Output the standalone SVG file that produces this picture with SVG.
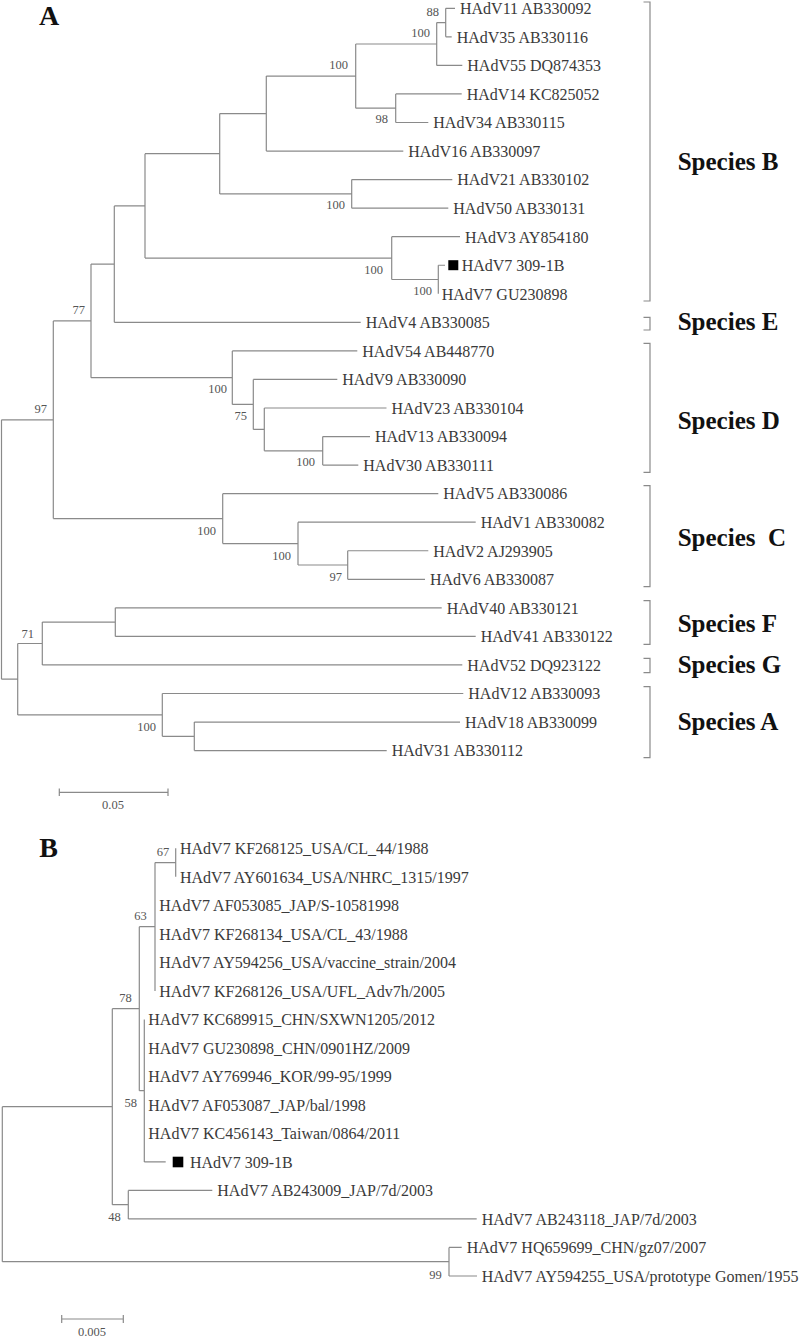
<svg xmlns="http://www.w3.org/2000/svg" width="800" height="1336" viewBox="0 0 800 1336">
<style>
.e{fill:none;stroke:#8a8a8a;stroke-width:1.2}
.t{font-family:"Liberation Serif","Times New Roman",serif;font-size:16px;fill:#3a3a3a}
.b{font-family:"Liberation Serif","Times New Roman",serif;font-size:12.5px;fill:#555;text-anchor:end}
.s{font-family:"Liberation Serif","Times New Roman",serif;font-size:25px;font-weight:bold;fill:#111}
.p{font-family:"Liberation Serif","Times New Roman",serif;font-weight:bold;fill:#111}
.k{fill:none;stroke:#8a8a8a;stroke-width:1.2}
.sc{font-family:"Liberation Serif","Times New Roman",serif;font-size:12.5px;fill:#555;text-anchor:middle}
</style>
<rect width="800" height="1336" fill="#fff"/>
<text class="p" x="39" y="25" font-size="28">A</text>
<text class="p" x="39.3" y="856.7" font-size="28">B</text>

<g id="connectors">
<path class="e" d="M1.5 419.8V679.2M1.5 419.8H53.3M1.5 679.2H17.7
M53.3 320.9V518.6M53.3 320.9H91M53.3 518.6H222.7
M91 264.1V377.7M91 264.1H114.3M91 377.7H232.3
M114.3 205.9V322.35M114.3 205.9H145M114.3 322.35H360.7
M145 153.7V258.1M145 153.7H219.7M145 258.1H391.7
M219.7 113.6V193.9M219.7 113.6H266.3M219.7 193.9H351.7
M266.3 76.1V151.05M266.3 76.1H355.7M266.3 151.05H403.3
M355.7 44V108.2M355.7 44H436.7M355.7 108.2H395.7
M436.7 22.6V65.4M436.7 22.6H445.7M436.7 65.4H462.3
M445.7 8.3V36.85M445.7 8.3H455M445.7 36.85H451.7
M395.7 93.95V122.5M395.7 93.95H461.7M395.7 122.5H428.3
M351.7 179.6V208.15M351.7 179.6H452.3M351.7 208.15H448.3
M391.7 236.7V279.5M391.7 236.7H460M391.7 279.5H438.3
M438.3 265.25V293.8M438.3 265.25H445
M232.3 350.9V404.4M232.3 350.9H357.3M232.3 404.4H253.3
M253.3 379.45V429.4M253.3 379.45H337.3M253.3 429.4H264.3
M264.3 408V450.8M264.3 408H386.5M264.3 450.8H322.7
M322.7 436.55V465.1M322.7 436.55H370M322.7 465.1H358.3
M222.7 493.65V543.6M222.7 493.65H438.3M222.7 543.6H298
M298 522.2V565M298 522.2H475.7M298 565H347.7
M347.7 550.75V579.3M347.7 550.75H428.3M347.7 579.3H425
M17.7 643.5V714.9M17.7 643.5H42.3M17.7 714.9H162.3
M42.3 622.1V664.95M42.3 622.1H115.3M42.3 664.95H462.3
M115.3 607.85V636.4M115.3 607.85H441.7M115.3 636.4H475.7
M162.3 693.5V736.3M162.3 693.5H463.3M162.3 736.3H194.3
M194.3 722.05V750.6M194.3 722.05H460M194.3 750.6H386.7"/>
<path class="e" d="M2.3 1106.7V1261.7M2.3 1106.7H112.3M2.3 1261.7H449
M112.3 1008.7V1204.65M112.3 1008.7H139.3M112.3 1204.65H128.3
M139.3 926.7V1090.65M139.3 926.7H155M139.3 1090.65H144.3
M155 862.55V990.9M155 862.55H175.7
M175.7 848.3V876.8
M144.3 1019.4V1161.9M144.3 1161.9H165.7
M128.3 1190.4V1218.9M128.3 1190.4H212.3M128.3 1218.9H476.7
M449 1247.4V1276M449 1247.4H461.7M449 1276H477"/>
</g>

<g id="tipsA">
<g id="a0"><text class="t" x="460" y="14.1">HAdV11 AB330092</text></g>
<g id="a1"><text class="t" x="456.7" y="42.65">HAdV35 AB330116</text></g>
<g id="a2"><text class="t" x="467.3" y="71.2">HAdV55 DQ874353</text></g>
<g id="a3"><text class="t" x="466.7" y="99.75">HAdV14 KC825052</text></g>
<g id="a4"><text class="t" x="433.3" y="128.3">HAdV34 AB330115</text></g>
<g id="a5"><text class="t" x="408.3" y="156.85">HAdV16 AB330097</text></g>
<g id="a6"><text class="t" x="457.3" y="185.4">HAdV21 AB330102</text></g>
<g id="a7"><text class="t" x="453.3" y="213.95">HAdV50 AB330131</text></g>
<g id="a8"><text class="t" x="465" y="242.5">HAdV3 AY854180</text></g>
<g id="a9"><rect x="448.3" y="260.2" width="10" height="10" fill="#000"/><text class="t" x="461.7" y="271.05">HAdV7 309-1B</text></g>
<g id="a10"><text class="t" x="441.7" y="299.6">HAdV7 GU230898</text></g>
<g id="a11"><text class="t" x="365.7" y="328.15">HAdV4 AB330085</text></g>
<g id="a12"><text class="t" x="362.3" y="356.7">HAdV54 AB448770</text></g>
<g id="a13"><text class="t" x="342.3" y="385.25">HAdV9 AB330090</text></g>
<g id="a14"><text class="t" x="391.5" y="413.8">HAdV23 AB330104</text></g>
<g id="a15"><text class="t" x="375" y="442.35">HAdV13 AB330094</text></g>
<g id="a16"><text class="t" x="363.3" y="470.9">HAdV30 AB330111</text></g>
<g id="a17"><text class="t" x="443.3" y="499.45">HAdV5 AB330086</text></g>
<g id="a18"><text class="t" x="480.7" y="528">HAdV1 AB330082</text></g>
<g id="a19"><text class="t" x="433.3" y="556.55">HAdV2 AJ293905</text></g>
<g id="a20"><text class="t" x="430" y="585.1">HAdV6 AB330087</text></g>
<g id="a21"><text class="t" x="446.7" y="613.65">HAdV40 AB330121</text></g>
<g id="a22"><text class="t" x="480.7" y="642.2">HAdV41 AB330122</text></g>
<g id="a23"><text class="t" x="467.3" y="670.75">HAdV52 DQ923122</text></g>
<g id="a24"><text class="t" x="468.3" y="699.3">HAdV12 AB330093</text></g>
<g id="a25"><text class="t" x="465" y="727.85">HAdV18 AB330099</text></g>
<g id="a26"><text class="t" x="391.7" y="756.4">HAdV31 AB330112</text></g>
</g>

<g id="bootstrapA">
<text class="b" x="439" y="16">88</text>
<text class="b" x="430" y="36.6">100</text>
<text class="b" x="348" y="68.6">100</text>
<text class="b" x="388" y="123.3">98</text>
<text class="b" x="345" y="208.6">100</text>
<text class="b" x="383" y="273.6">100</text>
<text class="b" x="432" y="295.3">100</text>
<text class="b" x="85" y="314.3">77</text>
<text class="b" x="227" y="393.3">100</text>
<text class="b" x="247" y="420">75</text>
<text class="b" x="47" y="413.3">97</text>
<text class="b" x="315" y="466.3">100</text>
<text class="b" x="216" y="535">100</text>
<text class="b" x="291" y="560">100</text>
<text class="b" x="342" y="581">97</text>
<text class="b" x="34" y="637.6">71</text>
<text class="b" x="156" y="731.3">100</text>
</g>

<g id="speciesB"><path class="k" d="M643.5 2H650V301H643.5"/><text class="s" x="677.7" y="169.5">Species B</text></g>
<g id="speciesE"><path class="k" d="M643.5 317.3H650V330H643.5"/><text class="s" x="677.7" y="330">Species E</text></g>
<g id="speciesD"><path class="k" d="M643.5 343.3H650V472.3H643.5"/><text class="s" x="677.7" y="429.3">Species D</text></g>
<g id="speciesC"><path class="k" d="M643.5 485.7H650V586.7H643.5"/><text class="s" x="677.7" y="545.5" xml:space="preserve">Species  C</text></g>
<g id="speciesF"><path class="k" d="M643.5 600.7H650V644.3H643.5"/><text class="s" x="677.7" y="631.5">Species F</text></g>
<g id="speciesG"><path class="k" d="M643.5 658.3H650V672.7H643.5"/><text class="s" x="677.7" y="672.5">Species G</text></g>
<g id="speciesA"><path class="k" d="M643.5 686.7H650V757.7H643.5"/><text class="s" x="677.7" y="730">Species A</text></g>

<g id="scaleA"><path class="e" d="M59.3 792.3H168M59.3 788.5V796M168 788.5V796"/><text class="sc" x="113" y="809">0.05</text></g>

<g id="tipsB">
<g id="b0"><text class="t" x="180" y="854.1">HAdV7 KF268125_USA/CL_44/1988</text></g>
<g id="b1"><text class="t" x="180" y="882.6">HAdV7 AY601634_USA/NHRC_1315/1997</text></g>
<g id="b2"><text class="t" x="159.3" y="911.1">HAdV7 AF053085_JAP/S-10581998</text></g>
<g id="b3"><text class="t" x="159.3" y="939.6">HAdV7 KF268134_USA/CL_43/1988</text></g>
<g id="b4"><text class="t" x="159.3" y="968.1">HAdV7 AY594256_USA/vaccine_strain/2004</text></g>
<g id="b5"><text class="t" x="159.3" y="996.7">HAdV7 KF268126_USA/UFL_Adv7h/2005</text></g>
<g id="b6"><text class="t" x="148.3" y="1025.2">HAdV7 KC689915_CHN/SXWN1205/2012</text></g>
<g id="b7"><text class="t" x="148.3" y="1053.7">HAdV7 GU230898_CHN/0901HZ/2009</text></g>
<g id="b8"><text class="t" x="148.3" y="1082.2">HAdV7 AY769946_KOR/99-95/1999</text></g>
<g id="b9"><text class="t" x="148.3" y="1110.7">HAdV7 AF053087_JAP/bal/1998</text></g>
<g id="b10"><text class="t" x="148.3" y="1139.2">HAdV7 KC456143_Taiwan/0864/2011</text></g>
<g id="b11"><rect x="172.7" y="1156.7" width="10.6" height="10.6" fill="#000"/><text class="t" x="190" y="1167.7">HAdV7 309-1B</text></g>
<g id="b12"><text class="t" x="217.3" y="1196.2">HAdV7 AB243009_JAP/7d/2003</text></g>
<g id="b13"><text class="t" x="481.7" y="1224.7">HAdV7 AB243118_JAP/7d/2003</text></g>
<g id="b14"><text class="t" x="466.7" y="1253.2">HAdV7 HQ659699_CHN/gz07/2007</text></g>
<g id="b15"><text class="t" x="481.7" y="1281.8">HAdV7 AY594255_USA/prototype Gomen/1955</text></g>
</g>

<g id="bootstrapB">
<text class="b" x="169.3" y="856">67</text>
<text class="b" x="146.7" y="919.5">63</text>
<text class="b" x="131.7" y="1001.8">78</text>
<text class="b" x="137" y="1107">58</text>
<text class="b" x="120.7" y="1221">48</text>
<text class="b" x="441.7" y="1278.5">99</text>
</g>

<g id="scaleB"><path class="e" d="M61.7 1319H123.3M61.7 1315V1323M123.3 1315V1323"/><text class="sc" x="92" y="1335.5">0.005</text></g>
</svg>
